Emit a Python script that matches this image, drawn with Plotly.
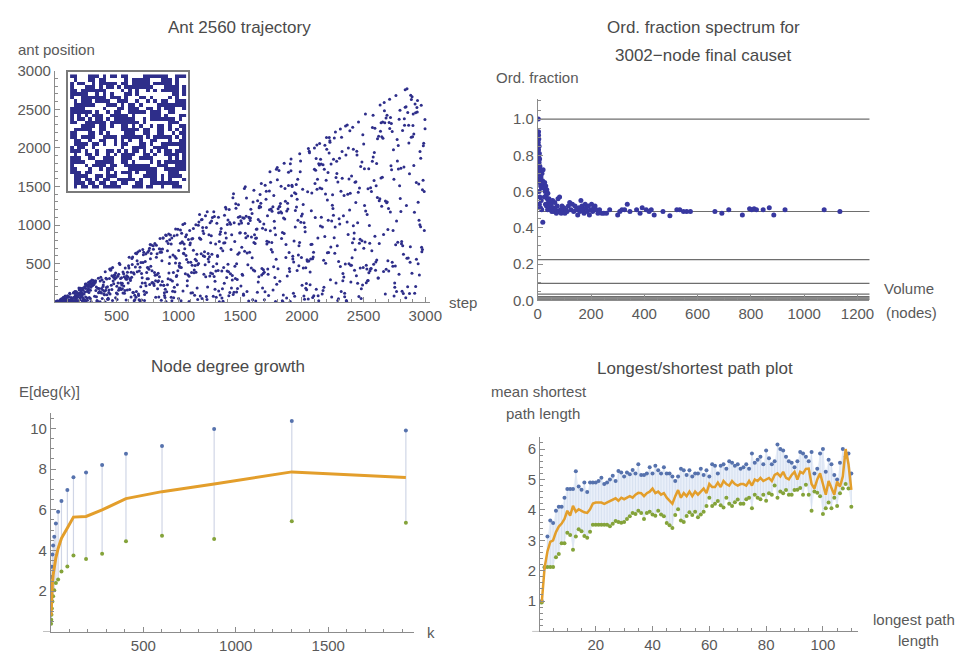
import plotly.graph_objects as go

# ---------------- Panel 1: Ant 2560 trajectory ----------------
ANT_POINTS_A = [
    (3,0),(6,1),(9,8),(12,8),(15,5),(18,16),(21,17),(24,8),(27,10),(30,14),(33,9),(36,15),(39,15),(42,13),
    (45,36),(48,24),(51,14),(54,45),(57,11),(60,43),(63,43),(66,26),(69,64),(72,54),(75,8),(78,45),(81,16),
    (84,81),(87,43),(90,40),(93,55),(96,22),(99,7),(102,83),(105,67),(108,6),(111,31),(114,71),(117,9),
    (120,116),(123,106),(126,35),(129,4),(132,63),(135,34),(138,47),(141,30),(144,24),(147,9),(150,119),
    (153,125),(156,22),(159,127),(162,139),(165,84),(168,54),(171,140),(174,52),(177,117),(180,85),(183,16),
    (186,71),(189,83),(192,115),(195,185),(198,99),(201,117),(204,45),(207,64),(210,151),(213,113),(216,127),
    (219,88),(222,180),(225,63),(228,109),(231,25),(234,40),(237,107),(240,5),(243,204),(246,25),(249,67),
    (252,3),(255,237),(258,219),(261,55),(264,26),(267,147),(270,159),(273,175),(276,127),(279,61),(282,265),
    (285,254),(288,156),(291,271),(294,9),(297,241),(300,288),
    (306,217),(312,256),(318,258),(324,266),(330,277),(336,198),(342,14),(348,181),(354,124),(360,130),(366,7),
    (372,324),(378,178),(384,50),(390,203),(396,261),(402,96),(408,396),(414,310),(420,302),(426,200),(432,39),
    (438,158),(444,430),(450,428),(456,433),(462,342),(468,449),(474,327),(480,322),(486,301),(492,379),
    (498,120),(504,35),(510,337),(516,155),(522,183),(528,185),(534,251),(540,319),(546,246),(552,392),
    (558,212),(564,118),(570,445),(576,300),(582,297),(588,388),(594,249),(600,444),(606,164),(612,282),
    (618,389),(624,568),(630,586),(636,127),(642,19),(648,32),(654,634),(660,139),(666,539),(672,497),
    (678,88),(684,404),(690,455),(696,202),(702,28),(708,248),(714,514),(720,648),(726,22),(732,249),
    (738,214),(744,387),(750,450),(756,446),(762,427),(768,230),(774,565),(780,632),(786,252),(792,253),
    (798,686),(804,217),(810,761),(816,277),(822,740),(828,629),(834,267),(840,277),(846,694),(852,826),
    (858,686),(864,648),(870,270),(876,832),(882,221),(888,89),(894,170),(900,9),(906,136),(912,666),
    (918,762),(924,379),(930,809),(936,870),(942,66),(948,19),(954,143),(960,384),(966,860),(972,136),
    (978,949),(984,335),(990,871),(996,408),
    (1003,672),(1010,505),(1017,936),(1024,451),(1031,784),(1038,145),(1045,627),(1052,694),(1059,847),
    (1066,874),(1073,279),(1080,518),(1087,11),(1094,744),(1101,517),(1108,820),(1115,123),(1122,954),
    (1129,418),(1136,477),(1143,389),(1150,621),(1157,486),(1164,501),(1171,831),(1178,82),(1185,628),
    (1192,1073),(1199,923),(1206,892),(1213,594),(1220,1122),(1227,74),(1234,1172),(1241,633),(1248,874),
    (1255,339),(1262,770),(1269,1053),(1276,1097),(1283,77),(1290,335),(1297,169),(1304,404),(1311,498),
    (1318,593),(1325,1100),(1332,5),(1339,94),(1346,700),(1353,54),(1360,666),(1367,451),(1374,1127),
    (1381,898),(1388,833),(1395,405),(1402,1066),(1409,85),(1416,1034),(1423,1010),(1430,186),(1437,287),
    (1444,101),(1451,131),(1458,467),(1465,1275),(1472,132),(1479,177),(1486,1100),(1493,642),(1500,1110),
    (1507,1055),(1514,712),(1521,350),(1528,92),(1535,1474),(1542,1496),(1549,1115),(1556,140),(1563,485),
    (1570,16),(1577,647),(1584,1093),(1591,445),(1598,575),(1605,1300),(1612,1451),(1619,405),(1626,829),
    (1633,833),(1640,131),(1647,1071),(1654,1224),(1661,1046),(1668,1284),(1675,352),(1682,185),(1689,422),
    (1696,390),(1703,1516),(1710,1334),(1717,755),(1724,431),(1731,87),(1738,1199),(1745,925),(1752,1209),
    (1759,1179),(1766,1236),(1773,1383),(1780,961),(1787,876),(1794,1722),(1801,1747),(1808,1211),
    (1815,1706),(1822,1239),(1829,1171),(1836,826),(1843,903),(1850,93),(1857,1801),(1864,1473),(1871,580),
    (1878,1183),(1885,1282),(1892,1684),(1899,437),(1906,10),(1913,1856),(1920,1517),(1927,597),(1934,522),
    (1941,1417),(1948,1188),(1955,1525),(1962,412),(1969,1063),(1976,474),(1983,1924),(1990,1831),(1997,579),
    (2004,1142),(2011,1267),(2018,1029),(2025,972),(2032,447),(2039,163),(2046,532),(2053,1991),(2060,1957),
    (2067,393),(2074,747),(2081,1415),(2088,63),(2095,649),(2102,1724),(2109,1097),(2116,1862),(2123,1465),
    (2130,831),(2137,1795),(2144,2058),(2151,989),(2158,1101),(2165,108),(2172,1781),(2179,196),(2186,853),
    (2193,504),(2200,2134),(2207,640),(2214,1063),(2221,1932),(2228,2072),(2235,715),(2242,67),(2249,1394),
    (2256,1128),(2263,2127),(2270,976),(2277,250),(2284,1667),(2291,23),(2298,529),(2305,1867),(2312,2243),
    (2319,139),(2326,1954),(2333,373),(2340,328),(2347,70),(2354,2283),(2361,24),(2368,2297),(2375,879),
    (2382,1596),(2389,2222),(2396,479),(2403,1634),(2410,771),(2417,1982),(2424,897),(2431,1556),(2438,1560),
    (2445,1956),(2452,1030),(2459,2336),(2466,764),(2473,445),(2480,50),(2487,796),(2494,2170),(2501,2051),
    (2508,1254),(2515,2440),(2522,479),(2529,1138),(2536,1471),(2543,381),(2550,765),(2557,435),(2564,1436),
    (2571,1825),(2578,1882),(2585,1577),(2592,855),(2599,520),(2606,1798),(2613,2117),(2620,314),(2627,1314),
    (2634,2555),(2641,1611),(2648,2145),(2655,2336),(2662,399),(2669,2482),(2676,107),(2683,429),(2690,2421),
    (2697,944),(2704,406),(2711,2630),(2718,2392),(2725,2316),(2732,519),(2739,931),(2746,1593),(2753,193),
    (2760,745),(2767,1051),(2774,1831),(2781,2030),(2788,2370),(2795,2488),(2802,1177),(2809,787),(2816,2225),
    (2823,621),(2830,2377),(2837,2752),(2844,2531),(2851,570),(2858,2458),(2865,2292),(2872,1666),(2879,720),
    (2886,2136),(2893,2662),(2900,2291),(2907,1773),(2914,117),(2921,2454),(2928,556),(2935,2465),(2942,1294),
    (2949,1062),(2956,1005),(2963,1867),(2970,713),(2977,1459),(2984,2029),(2991,1436),(2998,2249),
]
ANT_POINTS_B = [
    (152,62),(157,66),(162,21),(167,94),(172,40),(177,129),(182,16),(187,94),(192,92),(197,158),(202,32),
    (207,182),(212,153),(217,91),(222,20),(227,157),(232,186),(237,185),(242,136),(247,237),(252,179),
    (257,224),(262,139),(267,203),(272,256),(277,222),(282,206),(287,49),(292,193),(297,235),(302,220),
    (307,243),(312,281),(317,231),(322,77),(327,255),(332,153),(337,71),(342,24),(347,10),(352,310),(357,179),
    (362,138),(367,275),(372,126),(377,121),(382,290),(387,159),(392,223),(397,107),(402,141),(407,4),
    (412,157),(417,192),(422,97),(427,38),(432,52),(437,127),(442,309),(447,107),(452,416),(457,219),(462,166),
    (467,23),(472,274),(477,239),(482,352),(487,351),(492,59),(497,318),(502,206),(507,106),(512,251),
    (517,362),(522,506),(527,490),(532,309),(537,166),(542,222),(547,175),(552,121),(557,368),(562,332),
    (567,153),(572,315),(577,29),(582,343),(587,158),(592,326),(597,472),(602,584),(607,304),(612,306),
    (617,68),(622,323),(627,489),(632,126),(637,382),(642,366),(647,91),(652,456),(657,66),(662,629),
    (667,394),(672,652),(677,108),(682,34),(687,666),(692,14),(697,516),(702,372),(707,318),(712,684),
    (717,617),(722,144),(727,102),(732,527),(737,626),(742,126),(747,306),(752,647),(757,303),(762,671),
    (767,698),(772,749),(777,466),(782,743),(787,409),(792,253),(797,733),(802,241),(807,387),(812,349),
    (817,65),(822,584),(827,356),(832,175),(837,377),(842,67),(847,330),(852,648),(857,223),(862,26),
    (867,538),(872,689),(877,833),(882,221),(887,124),(892,62),(897,870),(902,866),(907,789),(912,228),
    (917,303),(922,885),(927,501),(932,587),(937,290),(942,754),(947,833),(952,276),(957,612),(962,58),
    (967,193),(972,593),(977,508),(982,570),(987,345),(992,228),(997,947),(1002,50),(1007,473),(1012,455),
    (1017,763),(1022,20),(1027,893),(1032,774),(1037,1006),(1042,636),(1047,754),(1052,1020),(1057,370),
    (1062,605),(1067,555),(1072,214),(1077,355),(1082,812),(1087,337),(1092,928),(1097,768),(1102,121),
    (1107,387),(1112,478),(1117,827),(1122,673),(1127,383),(1132,91),(1137,557),(1142,1005),(1147,539),
    (1152,184),(1157,35),(1162,999),(1167,1039),(1172,1137),(1177,824),(1182,816),(1187,1068),(1192,48),
    (1197,970),(1202,601),(1207,362),(1212,654),(1217,487),(1222,330),(1227,969),(1232,37),(1237,198),
    (1242,559),(1247,524),(1252,588),(1257,1031),(1262,379),(1267,862),(1272,623),(1277,370),(1282,462),
    (1287,1171),(1292,1111),(1297,272),(1302,755),(1307,65),(1312,1023),(1317,606),(1322,410),(1327,146),
    (1332,786),(1337,882),(1342,913),(1347,956),(1352,406),(1357,176),(1362,14),(1367,766),(1372,247),
    (1377,771),(1382,1230),(1387,1207),(1392,320),(1397,1006),(1402,491),(1407,394),(1412,1200),(1417,128),
    (1422,370),(1427,685),(1432,874),(1437,345),(1442,1355),(1447,1404),(1452,1031),(1457,787),(1462,307),
    (1467,1218),(1472,500),(1477,295),(1482,622),(1487,1264),(1492,1015),(1497,898),(1502,901),(1507,211),
    (1512,1028),(1517,364),(1522,1096),(1527,107),(1532,1088),(1537,661),(1542,894),(1547,835),(1552,1350),
    (1557,638),(1562,859),(1567,1019),(1572,1100),(1577,1088),(1582,1060),(1587,1206),(1592,844),(1597,1150),
    (1602,32),(1607,418),(1612,774),(1617,873),(1622,762),(1627,16),(1632,947),(1637,949),(1642,1314),
    (1647,264),(1652,330),(1657,1243),(1662,1396),(1667,1234),(1672,1538),(1677,436),(1682,959),(1687,371),
    (1692,1015),(1697,34),(1702,136),(1707,939),(1712,1438),(1717,790),(1722,1119),(1727,363),(1732,779),
    (1737,1442),(1742,1690),(1747,1555),(1752,683),(1757,773),(1762,652),(1767,159),(1772,461),(1777,1048),
    (1782,321),(1787,9),(1792,556),(1797,234),(1802,1586),(1807,434),(1812,1160),(1817,1236),(1822,273),
    (1827,1279),(1832,1502),(1837,1157),(1842,18),(1847,5),(1852,1093),(1857,891),(1862,1080),(1867,1307),
    (1872,749),(1877,56),(1882,339),(1887,1208),(1892,1514),(1897,645),(1902,399),(1907,1793),(1912,1702),
    (1917,1380),(1922,1499),(1927,559),(1932,116),(1937,794),(1942,78),(1947,974),(1952,1405),(1957,1233),
    (1962,1334),(1967,1593),(1972,611),(1977,731),(1982,773),(1987,1689),(1992,1036),(1997,1118),(2002,220),
    (2007,1465),(2012,443),(2017,81),(2022,40),(2027,912),(2032,183),(2037,244),(2042,551),(2047,1433),
    (2052,41),(2057,535),(2062,1938),(2067,227),(2072,559),(2077,1184),(2082,750),(2087,563),(2092,586),
    (2097,84),(2102,1997),(2107,1538),(2112,1711),(2117,169),(2122,2037),(2127,1595),(2132,85),(2137,21),
    (2142,1778),(2147,1481),(2152,1851),(2157,1790),(2162,1470),(2167,975),(2172,152),(2177,544),(2182,1724),
    (2187,2034),(2192,1403),(2197,1582),(2202,1982),(2207,1324),(2212,1681),(2217,643),(2222,2133),(2227,2093),
    (2232,290),(2237,1790),(2242,1054),(2247,1258),(2252,1216),(2257,1851),(2262,837),(2267,635),(2272,2204),
    (2277,1617),(2282,1826),(2287,732),(2292,1559),(2297,46),(2302,1082),(2307,1015),(2312,462),(2317,1437),
    (2322,2136),(2327,1606),(2332,280),(2337,1122),(2342,1382),(2347,117),(2352,494),(2357,1909),(2362,12),
    (2367,1041),(2372,1399),(2377,1997),(2382,500),(2387,1194),(2392,1411),(2397,264),(2402,480),(2407,578),
    (2412,2267),(2417,991),(2422,823),(2427,413),(2432,681),(2437,1292),(2442,342),(2447,1909),(2452,245),
    (2457,1425),(2462,74),(2467,1480),(2472,816),(2477,1759),(2482,174),(2487,1816),(2492,224),(2497,449),
    (2502,701),(2507,1730),(2512,779),(2517,1183),(2522,252),(2527,430),(2532,279),(2537,281),(2542,1729),
    (2547,993),(2552,408),(2557,1483),(2562,436),(2567,667),(2572,2263),(2577,2422),(2582,491),(2587,1940),
    (2592,2255),(2597,416),(2602,1509),(2607,547),(2612,1358),(2617,314),(2622,2150),(2627,762),(2632,1342),
    (2637,2215),(2642,2325),(2647,1244),(2652,1618),(2657,2126),(2662,878),(2667,2587),(2672,2325),(2677,1312),
    (2682,2387),(2687,1290),(2692,1300),(2697,539),(2702,1216),(2707,2328),(2712,2251),(2717,1168),(2722,1769),
    (2727,1718),(2732,2213),(2737,465),(2742,1974),(2747,82),(2752,248),(2757,469),(2762,2679),(2767,138),
    (2772,2107),(2777,778),(2782,1725),(2787,362),(2792,1508),(2797,1343),(2802,1737),(2807,758),(2812,141),
    (2817,732),(2822,113),(2827,1753),(2832,2294),(2837,2525),(2842,57),(2847,1253),(2852,2766),(2857,200),
    (2862,572),(2867,2064),(2872,115),(2877,518),(2882,2680),(2887,2627),(2892,376),(2897,2144),(2902,2438),
    (2907,2180),(2912,1165),(2917,2567),(2922,205),(2927,1551),(2932,2522),(2937,2614),(2942,500),(2947,1532),
    (2952,354),(2957,1952),(2962,977),(2967,2552),(2972,654),(2977,685),(2982,1580),(2987,2061),(2992,928),
    (2997,2368),
]
ANT_POINTS = ANT_POINTS_A + ANT_POINTS_B
ANT_STEP = [p[0] for p in ANT_POINTS]
ANT_POS = [p[1] for p in ANT_POINTS]

INSET_ROWS = [
    "01011011011111000111011001001110",
    "01110110110110110011001111111100",
    "01101101011001111101001101010001",
    "01111001101110001000111101011110",
    "11101100001010111010011100011100",
    "11000100101100001111111100111111",
    "10001011110110011111110011100111",
    "11110001111100110100001010111111",
    "11100110011100111001111000010101",
    "01001101001010111100110100111101",
    "11101001001101010110101010110111",
    "10110010000000100111100111100011",
    "01111011010010110001101001111111",
    "01100100110010101001001100010011",
    "11011110011110111111010111110101",
    "11000110101000011100110011001011",
    "01111100110000111110110011010101",
    "00011110110100110101001011010011",
    "11001111110111111110100000011100",
    "10110101101011111100101111111010",
    "10101011100111110100001110100011",
    "11111101001011001111101110011000",
    "11110000010001101110011010111001",
    "01111110001110101101000011111111",
    "01011101111001110010010101100111",
    "10011111110111010001101000010100",
    "11111001010100011010000000001101",
    "11011111110000101010010101111101",
    "10001110101101011111111000111101",
    "10110010111110110111110111110100",
    "01000110110000010111110001110100",
    "11000111010110110000111111100111",
]
INSET_Z = [[int(c) for c in row] for row in INSET_ROWS]

# ---------------- Panel 2: Ord. fraction spectrum ----------------
ORD_POINTS = [
    (2,1.0),(3,0.93),(3,0.91),(4,0.89),(2,0.87),(5,0.85),(3,0.83),(6,0.81),(4,0.79),(7,0.78),
    (5,0.76),(8,0.74),(6,0.72),(9,0.71),(10,0.69),(4,0.67),(12,0.68),(7,0.65),(11,0.63),(5,0.6),
    (14,0.62),(8,0.57),(13,0.55),(6,0.53),(10,0.51),(15,0.5),(16,0.7),(18,0.66),(20,0.72),(22,0.64),
    (24,0.62),(26,0.65),(28,0.6),(30,0.63),(32,0.58),(34,0.61),(36,0.56),(38,0.59),(40,0.54),(25,0.57),
    (29,0.53),(33,0.52),(37,0.5),(42,0.56),(44,0.52),(46,0.55),(48,0.5),(19,0.43),(50,0.53),(53,0.49),
    (56,0.55),(58,0.51),(61,0.49),(64,0.54),(67,0.5),(70,0.48),(73,0.52),(76,0.56),(79,0.49),(82,0.57),
    (85,0.5),(88,0.48),(91,0.52),(95,0.49),(98,0.51),(102,0.48),(106,0.5),(110,0.49),(115,0.52),(120,0.54),
    (125,0.5),(130,0.53),(135,0.49),(140,0.52),(145,0.5),(150,0.47),(155,0.51),(158,0.49),(162,0.55),(166,0.52),
    (170,0.5),(174,0.48),(178,0.53),(182,0.51),(186,0.49),(190,0.52),(194,0.47),(198,0.5),(202,0.53),(206,0.49),
    (210,0.51),(215,0.52),(220,0.5),(226,0.48),(232,0.5),(240,0.48),(248,0.48),(258,0.48),(270,0.5),(300,0.47),
    (308,0.49),(316,0.5),(326,0.5),(336,0.53),(346,0.49),(371,0.5),(384,0.48),(392,0.51),(407,0.5),(418,0.49),
    (426,0.5),(437,0.47),(470,0.49),(496,0.466),(522,0.5),(533,0.5),(547,0.49),(559,0.49),(573,0.49),(665,0.49),
    (691,0.48),(717,0.5),(768,0.47),(795,0.505),(803,0.5),(812,0.505),(821,0.5),(846,0.5),(869,0.51),(886,0.47),
    (928,0.5),(1075,0.5),(1134,0.49),
]
ORD_VOLUME = [p[0] for p in ORD_POINTS]
ORD_FRACTION = [p[1] for p in ORD_POINTS]
ORD_LEVELS = [1.0, 0.49, 0.224, 0.093, 0.034, 0.02, 0.014, 0.008, 0.003]

# ---------------- Panel 3: Node degree growth ----------------
DEG_K = [1, 2, 3, 5, 8, 12, 18, 27, 39, 57, 89, 122, 190, 277, 406, 601, 883, 1303, 1920]
DEG_UPPER = [1.6, 2.2, 2.7, 3.2, 3.8, 4.25, 4.68, 5.32, 5.9, 6.43, 6.97, 7.6, 7.83, 8.2, 8.75, 9.13, 9.97, 10.36, 9.89]
DEG_LOWER = [0.4, 0.6, 0.85, 1.15, 1.5, 1.75, 2.05, 2.4, 2.58, 2.97, 3.21, 3.75, 3.58, 3.84, 4.45, 4.73, 4.57, 5.44, 5.36]
DEG_MEAN = [0.8, 1.25, 1.6, 2.0, 2.4, 2.8, 3.2, 3.65, 4.1, 4.6, 5.1, 5.64, 5.67, 5.99, 6.55, 6.89, 7.27, 7.86, 7.59]

# ---------------- Panel 4: Longest/shortest path ----------------
PATH_UPPER = [
    1.0, 2.1, 3.12, 3.65, 3.57, 3.97, 4.1, 4.1, 4.4, 4.69,
    4.69, 4.69, 5.27, 4.77, 4.66, 4.9, 4.59, 4.9, 4.9, 4.9,
    4.95, 5.06, 4.85, 4.9, 5.0, 5.12, 4.95, 5.28, 5.23, 5.1,
    5.23, 5.17, 5.31, 5.2, 5.5, 5.15, 5.15, 5.2, 5.4, 5.2,
    5.45, 5.3, 5.2, 5.4, 5.2, 5.2, 5.1, 4.95, 5.1, 5.35,
    5.3, 5.15, 5.3, 5.1, 5.2, 5.2, 5.35, 5.15, 5.3, 5.1,
    5.5, 5.45, 5.2, 5.45, 5.5, 5.35, 5.6, 5.55, 5.45, 5.5,
    5.35, 5.4, 5.5, 5.35, 5.85, 5.55, 5.65, 5.75, 5.5, 5.95,
    5.7, 5.5, 5.6, 6.15, 6.0, 5.95, 5.75, 5.6, 5.55, 5.4,
    5.6, 5.9, 5.85, 5.75, 5.6, 5.9, 5.2, 5.35, 5.85, 6.0,
    5.25, 5.65, 5.5, 5.15, 5.0, 5.55, 6.0, 5.75, 5.85, 5.2,
]
PATH_LOWER = [
    0.95, 2.12, 2.12, 2.12, 2.12, 2.44, 2.55, 2.9, 2.9, 3.25,
    3.17, 2.69, 3.12, 3.36, 3.3, 3.14, 3.08, 3.28, 3.51, 3.51,
    3.51, 3.51, 3.51, 3.51, 3.46, 3.54, 3.63, 3.6, 3.58, 3.6,
    3.7, 3.79, 3.9, 3.86, 3.97, 3.9, 3.7, 3.9, 3.94, 3.85,
    3.81, 3.97, 3.85, 3.79, 3.57, 3.49, 3.4, 3.83, 4.02, 3.65,
    3.6, 3.8, 3.92, 3.83, 3.94, 3.76, 3.85, 3.94, 4.13, 4.4,
    4.13, 4.2, 4.29, 4.15, 4.08, 4.4, 4.2, 4.13, 4.25, 4.34,
    4.2, 4.2, 4.35, 4.4, 4.05, 4.5, 4.4, 4.35, 4.5, 4.3,
    4.55, 4.5, 4.8, 4.4, 4.6, 4.55, 4.65, 4.5, 4.5, 4.65,
    4.66, 4.72, 4.5, 4.83, 4.5, 3.97, 4.6, 4.56, 4.45, 3.86,
    4.05, 4.24, 4.05, 4.4, 4.13, 4.55, 4.7, 4.85, 4.7, 4.1,
]
PATH_MEAN = [
    0.95, 2.1, 2.63, 2.95, 3.0, 3.27, 3.45, 3.55, 3.7, 3.97,
    3.81, 4.13, 3.94, 4.02, 3.97, 3.92, 3.9, 4.02, 4.21, 4.24,
    4.24, 4.24, 4.2, 4.25, 4.3, 4.34, 4.38, 4.3, 4.4, 4.35,
    4.4, 4.45, 4.4, 4.5, 4.56, 4.55, 4.45, 4.55, 4.6, 4.7,
    4.55, 4.6, 4.5, 4.55, 4.4, 4.3, 4.2, 4.45, 4.65, 4.4,
    4.55, 4.45, 4.6, 4.45, 4.6, 4.5, 4.6, 4.7, 4.55, 4.85,
    4.75, 4.75, 4.9, 4.75, 4.95, 4.85, 4.8, 4.95, 4.85, 4.8,
    4.85, 4.85, 4.8, 4.95, 4.8, 5.0, 4.95, 5.05, 4.95, 5.0,
    5.05, 4.95, 5.15, 5.2, 5.1, 5.25, 5.05, 5.0, 5.15, 5.25,
    5.0, 5.25, 5.2, 5.35, 5.36, 4.85, 4.7, 5.0, 5.2, 4.85,
    4.5, 4.95, 4.7, 4.5, 4.93, 4.76, 5.1, 6.0, 5.5, 4.66,
]
PATH_LONGEST = list(range(1, len(PATH_MEAN) + 1))

# ---------------- styling ----------------
FONT = "Liberation Sans, Arial, sans-serif"
AXC = "#8c8c8c"
TXT = "#595959"
TTL = "#4a4a4a"
NAVY = "#2e2e8a"
BLUE = "#5672ad"
GREEN = "#84a33a"
ORANGE = "#e39e2b"

W, H = 969, 661


def px_x(p):
    return p / W


def px_y(p):
    return 1 - p / H


def axis(domain, rng, anchor, tickvals, ticktext, minor_dtick, minor_len=3):
    return dict(
        domain=domain, range=rng, anchor=anchor, showgrid=False, zeroline=False,
        showline=True, linecolor=AXC, linewidth=1, ticks="inside", ticklen=5,
        tickwidth=1, tickcolor=AXC, tickmode="array", tickvals=tickvals,
        ticktext=ticktext, tickfont=dict(family=FONT, size=15, color=TXT),
        minor=dict(ticks="inside", ticklen=minor_len, tickwidth=1, tickcolor=AXC,
                   tickmode="linear", tick0=0, dtick=minor_dtick, showgrid=False),
        fixedrange=True,
    )


fig = go.Figure()

# Panel 1
fig.add_trace(go.Scatter(x=ANT_STEP, y=ANT_POS, mode="markers", xaxis="x", yaxis="y",
                         marker=dict(size=3, color=NAVY), hoverinfo="skip"))
fig.add_trace(go.Heatmap(z=INSET_Z, xaxis="x5", yaxis="y5", showscale=False, zmin=0, zmax=1,
                         colorscale=[[0, "rgba(255,255,255,0)"], [1, NAVY]], hoverinfo="skip"))

# Panel 2
fig.add_trace(go.Scatter(x=ORD_VOLUME, y=ORD_FRACTION, mode="markers", xaxis="x2", yaxis="y2",
                         marker=dict(size=5, color="#3838a0"), hoverinfo="skip"))

# Panel 3
bx, by = [], []
for k, lo, hi in zip(DEG_K, DEG_LOWER, DEG_UPPER):
    bx += [k, k, None]
    by += [lo, hi, None]
fig.add_trace(go.Scatter(x=bx, y=by, mode="lines", xaxis="x3", yaxis="y3",
                         line=dict(color="#d0d6e6", width=1.2), hoverinfo="skip"))
fig.add_trace(go.Scatter(x=DEG_K, y=DEG_UPPER, mode="markers", xaxis="x3", yaxis="y3",
                         marker=dict(size=4, color=BLUE), hoverinfo="skip"))
fig.add_trace(go.Scatter(x=DEG_K, y=DEG_LOWER, mode="markers", xaxis="x3", yaxis="y3",
                         marker=dict(size=4, color=GREEN), hoverinfo="skip"))
fig.add_trace(go.Scatter(x=DEG_K, y=DEG_MEAN, mode="lines", xaxis="x3", yaxis="y3",
                         line=dict(color=ORANGE, width=3), hoverinfo="skip"))

# Panel 4
fig.add_trace(go.Scatter(x=PATH_LONGEST, y=PATH_LOWER, mode="lines", xaxis="x4", yaxis="y4",
                         line=dict(width=0, color="rgba(0,0,0,0)"), hoverinfo="skip"))
fig.add_trace(go.Scatter(x=PATH_LONGEST, y=PATH_UPPER, mode="lines", xaxis="x4", yaxis="y4",
                         fill="tonexty", fillcolor="rgba(218,229,245,0.6)",
                         line=dict(width=0, color="rgba(0,0,0,0)"), hoverinfo="skip"))
vx, vy = [], []
for x, lo, hi in zip(PATH_LONGEST, PATH_LOWER, PATH_UPPER):
    vx += [x, x, None]
    vy += [lo, hi, None]
fig.add_trace(go.Scatter(x=vx, y=vy, mode="lines", xaxis="x4", yaxis="y4",
                         line=dict(color="#d2ddee", width=0.8), hoverinfo="skip"))
fig.add_trace(go.Scatter(x=PATH_LONGEST, y=PATH_UPPER, mode="markers", xaxis="x4", yaxis="y4",
                         marker=dict(size=4, color=BLUE), hoverinfo="skip"))
fig.add_trace(go.Scatter(x=PATH_LONGEST, y=PATH_LOWER, mode="markers", xaxis="x4", yaxis="y4",
                         marker=dict(size=4, color=GREEN), hoverinfo="skip"))
fig.add_trace(go.Scatter(x=PATH_LONGEST, y=PATH_MEAN, mode="lines", xaxis="x4", yaxis="y4",
                         line=dict(color=ORANGE, width=2.5), hoverinfo="skip"))

# ---------------- axes ----------------
layout = dict(
    width=W, height=H, margin=dict(l=0, r=0, t=0, b=0),
    paper_bgcolor="white", plot_bgcolor="rgba(0,0,0,0)", showlegend=False,
    font=dict(family=FONT, color=TXT),
)

layout["xaxis"] = axis([px_x(51.7), px_x(433.4)], [0, 3040], "y",
                       [500, 1000, 1500, 2000, 2500, 3000],
                       ["500", "1000", "1500", "2000", "2500", "3000"], 100)
layout["yaxis"] = axis([px_y(301), px_y(63.3)], [0, 3000], "x",
                       [500, 1000, 1500, 2000, 2500, 3000],
                       ["500", "1000", "1500", "2000", "2500", "3000"], 100)

layout["xaxis2"] = axis([px_x(542.7), px_x(880)], [0, 1245], "y2",
                        [0, 200, 400, 600, 800, 1000, 1200],
                        ["0", "200", "400", "600", "800", "1000", "1200"], 50)
layout["yaxis2"] = axis([px_y(299), px_y(92.5)], [0, 1.11], "x2",
                        [0, 0.2, 0.4, 0.6, 0.8, 1.0],
                        ["0.0", "0.2", "0.4", "0.6", "0.8", "1.0"], 0.05)

layout["xaxis3"] = axis([px_x(47.7), px_x(416.7)], [0, 1963], "y3",
                        [500, 1000, 1500], ["500", "1000", "1500"], 100)
layout["yaxis3"] = axis([px_y(639.4), px_y(414.7)], [0, 10.75], "x3",
                        [2, 4, 6, 8, 10], ["2", "4", "6", "8", "10"], 0.5)

layout["xaxis4"] = axis([px_x(545.05), px_x(868.2)], [0.4, 112.3], "y4",
                        [20, 40, 60, 80, 100], ["20", "40", "60", "80", "100"], 5)
layout["yaxis4"] = axis([px_y(638.9), px_y(439.2)], [0, 6.4], "x4",
                        [1, 2, 3, 4, 5, 6], ["1", "2", "3", "4", "5", "6"], 0.2)

layout["xaxis5"] = dict(domain=[px_x(65), px_x(187.3)], range=[-1.1, 32.1], anchor="y5",
                        showgrid=False, zeroline=False, showticklabels=False, ticks="",
                        showline=True, mirror=True, linecolor="#7a7a7a", linewidth=2,
                        fixedrange=True)
layout["yaxis5"] = dict(domain=[px_y(186.7), px_y(65)], range=[-1.1, 32.1], anchor="x5",
                        showgrid=False, zeroline=False, showticklabels=False, ticks="",
                        showline=True, mirror=True, linecolor="#7a7a7a", linewidth=2,
                        fixedrange=True)

# ---------------- shapes ----------------
shapes = []
for lv in ORD_LEVELS:
    shapes.append(dict(type="line", xref="x2 domain", x0=0, x1=1, yref="y2", y0=lv, y1=lv,
                       line=dict(color="#6e6e6e", width=1.2), layer="below"))
shapes.append(dict(type="line", xref="x3 domain", x0=-8 / 369, x1=0, yref="y3", y0=0, y1=0,
                   line=dict(color=AXC, width=1)))
shapes.append(dict(type="line", xref="x4 domain", x0=-8 / 323, x1=0, yref="y4", y0=0, y1=0,
                   line=dict(color=AXC, width=1)))
layout["shapes"] = shapes


def ann(text, xp, yp, xanchor="left", size=15, color=TXT):
    return dict(text=text, x=px_x(xp), y=px_y(yp), xref="paper", yref="paper",
                xanchor=xanchor, yanchor="middle", showarrow=False,
                font=dict(family=FONT, size=size, color=color))


layout["annotations"] = [
    ann("Ant 2560 trajectory", 239.5, 19, "center", 17, TTL),
    ann("Ord. fraction spectrum for", 711, 19, "center", 17, TTL),
    ann("3002\u2212node final causet", 711, 47.7, "center", 17, TTL),
    ann("Node degree growth", 228, 366.7, "center", 17, TTL),
    ann("Longest/shortest path plot", 703, 369, "center", 17, TTL),
    ann("ant position", 11.7, 41.7),
    ann("step", 450, 301.7),
    ann("Ord. fraction", 498, 70),
    ann("Volume", 893, 287.3),
    ann("(nodes)", 895, 311.7),
    ann("E[deg(k)]", 13, 392.3),
    ann("k", 428, 640),
    ann("mean shortest", 493, 392.7),
    ann("path length", 508, 415),
    ann("longest path", 882, 626.7),
    ann("length", 907, 648.3),
]

fig.update_layout(**layout)
fig.write_html("out.html")
